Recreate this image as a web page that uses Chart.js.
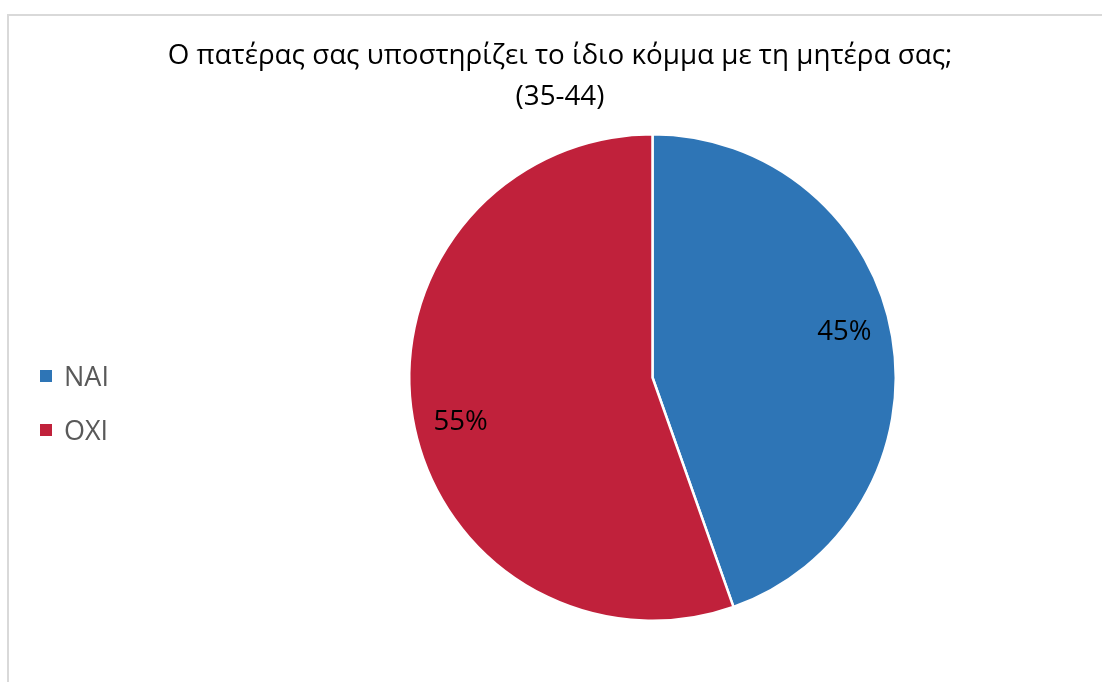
<!DOCTYPE html>
<html>
<head>
<meta charset="utf-8">
<script src="https://cdn.jsdelivr.net/npm/chart.js@4.4.0/dist/chart.umd.min.js"></script>
<style>
  html, body { margin: 0; padding: 0; background: #ffffff; overflow: hidden; }
  #wrap { position: relative; width: 1102px; height: 682px; }
  #frame { position: absolute; left: 7px; top: 14px; width: 1200px; height: 800px;
           border-left: 2px solid #d9d9d9; border-top: 2px solid #d9d9d9; box-sizing: border-box; }
  canvas { position: absolute; left: 0; top: 0; }
</style>
</head>
<body>
<div id="wrap">
  <div id="frame"></div>
  <canvas id="c" width="1102" height="682"></canvas>
</div>
<script>
const titleLines = ["Ο πατέρας σας υποστηρίζει το ίδιο κόμμα με τη μητέρα σας;", "(35-44)"];
const categories = ["NAI", "OXI"];
const values = [44.6, 55.4];
const colors = ["#2E75B6", "#C0213B"];

const FONT = "'Open Sans', 'Noto Sans', sans-serif";

const overlay = {
  id: 'overlay',
  afterDraw(chart) {
    const ctx = chart.ctx;
    ctx.save();
    // Title
    ctx.fillStyle = '#000000';
    ctx.textAlign = 'center';
    ctx.textBaseline = 'alphabetic';
    ctx.font = `30px ${FONT}`;
    const w = ctx.measureText(titleLines[0]).width;
    const size = 30 * 785 / w;
    ctx.font = `${size}px ${FONT}`;
    ctx.fillText(titleLines[0], 560, 64);
    ctx.fillText(titleLines[1], 560, 105);

    // Legend
    ctx.textAlign = 'left';
    ctx.font = `27px ${FONT}`;
    categories.forEach((cat, i) => {
      const cy = 376 + i * 54;
      ctx.fillStyle = colors[i];
      ctx.fillRect(40, cy - 6, 12, 12);
      ctx.fillStyle = '#595959';
      ctx.fillText(cat, 64, cy + 10);
    });

    // Data labels
    const meta = chart.getDatasetMeta(0);
    const total = values.reduce((a, b) => a + b, 0);
    ctx.fillStyle = '#000000';
    ctx.textAlign = 'center';
    ctx.textBaseline = 'middle';
    ctx.font = `27.5px ${FONT}`;
    meta.data.forEach((arc, i) => {
      const p = arc.getProps(['x', 'y', 'startAngle', 'endAngle', 'outerRadius'], true);
      const mid = (p.startAngle + p.endAngle) / 2 - 3.5 * Math.PI / 180;
      const r = p.outerRadius * 0.81;
      const pct = Math.round(values[i] / total * 100) + '%';
      ctx.fillText(pct, p.x + Math.cos(mid) * r, p.y + Math.sin(mid) * r);
    });
    ctx.restore();
  }
};

new Chart(document.getElementById('c'), {
  type: 'pie',
  data: {
    labels: categories,
    datasets: [{
      data: values,
      backgroundColor: colors,
      borderColor: '#ffffff',
      borderWidth: 2.5
    }]
  },
  options: {
    responsive: false,
    animation: false,
    devicePixelRatio: 1,
    layout: { padding: { left: 408, right: 205, top: 133, bottom: 60 } },
    plugins: {
      legend: { display: false },
      title: { display: false },
      tooltip: { enabled: false }
    }
  },
  plugins: [overlay]
});
</script>
</body>
</html>
